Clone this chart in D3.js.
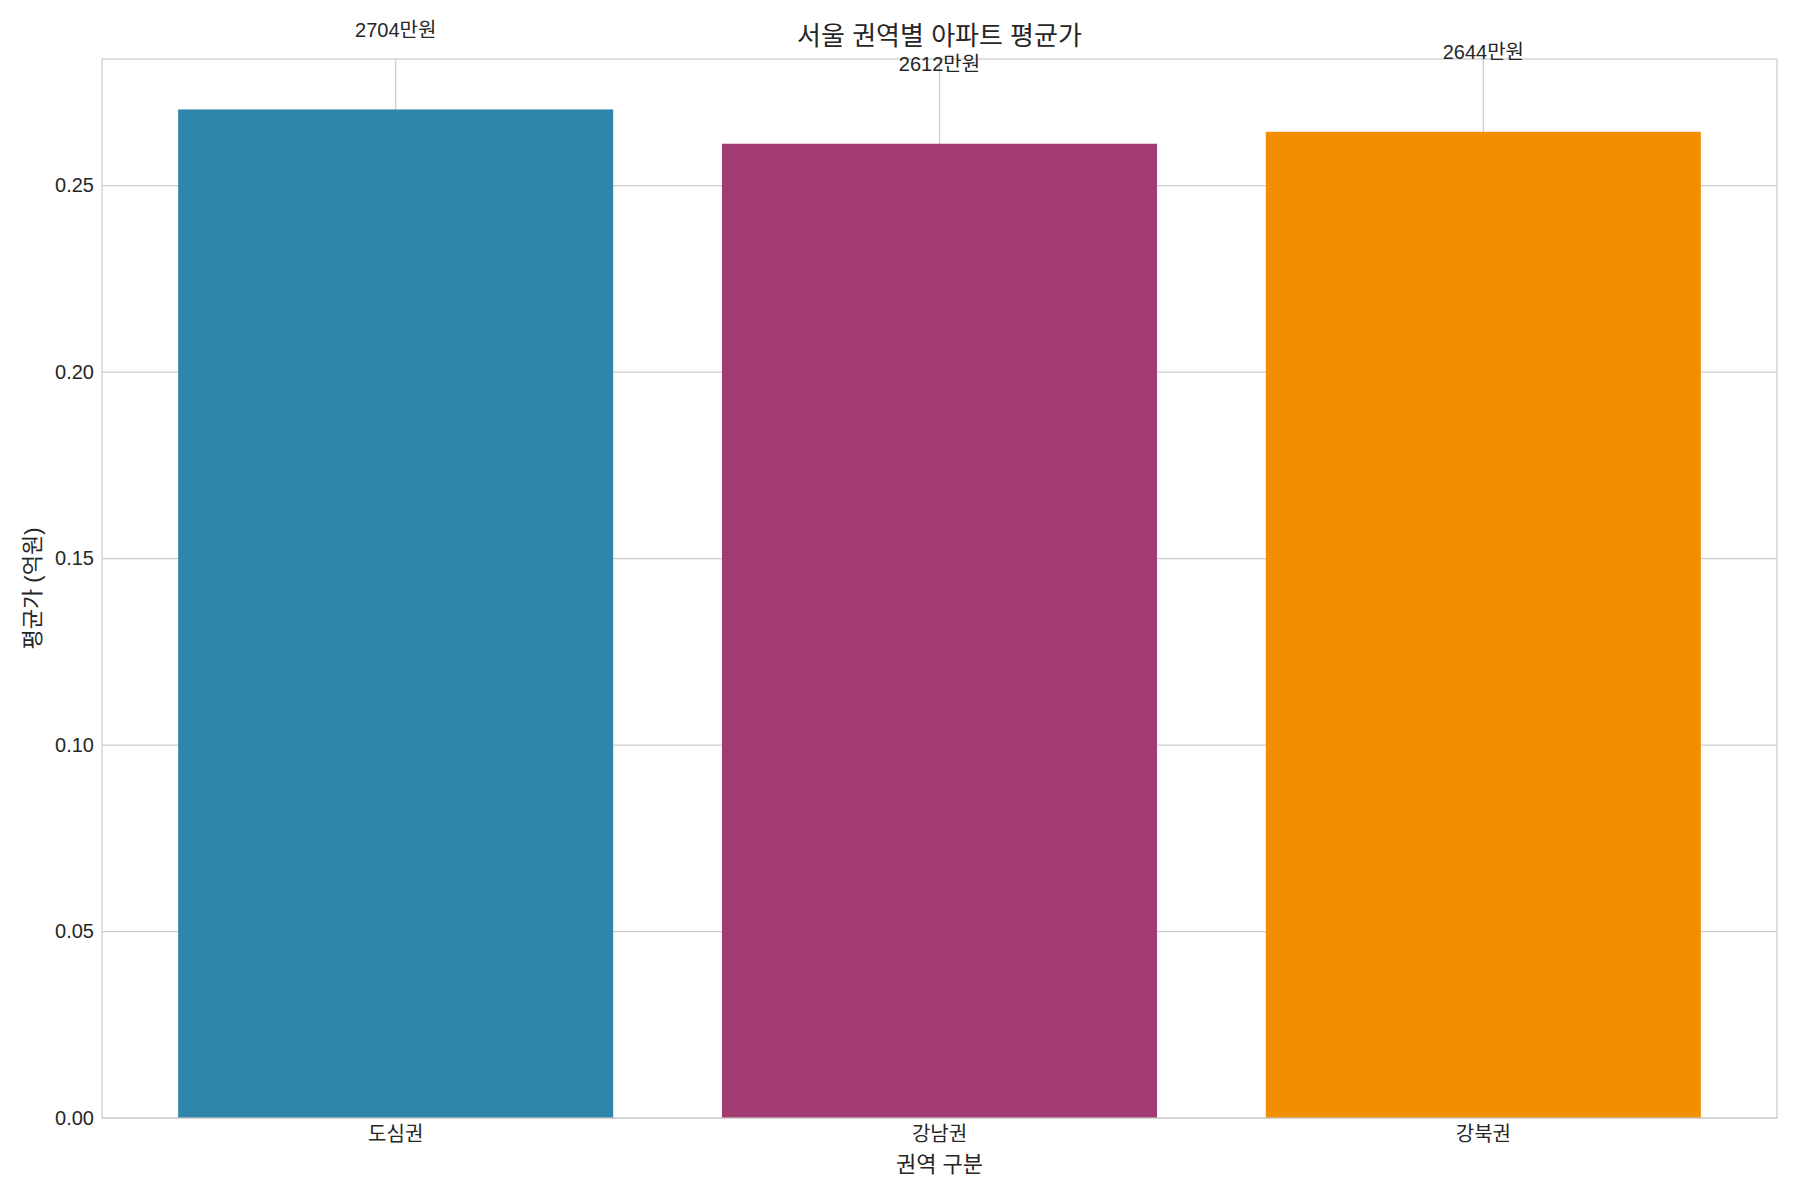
<!DOCTYPE html>
<html>
  <head>
    <meta charset="utf-8">
    <script src="https://d3js.org/d3.v7.min.js"></script>
    <style>
      body {
        margin: 0px;
        background: #ffffff;
      }
      text {
        font-family: "Liberation Sans", Arial, "Noto Sans CJK KR", sans-serif;
        fill: #262626;
      }
      .grid line {
        stroke: #cccccc;
        stroke-width: 1.25px;
      }
    </style>
  </head>
  <body>
    <svg width="1800" height="1200"></svg>
    <script>
      // chart values
      var categories = ["도심권", "강남권", "강북권"];
      var values = [0.2704, 0.2612, 0.2644];
      var valueLabels = ["2704만원", "2612만원", "2644만원"];
      var barColors = ["#2E86AB", "#A23B72", "#F18F01"];
      var yTicks = [0.00, 0.05, 0.10, 0.15, 0.20, 0.25];

      var titleText = "서울 권역별 아파트 평균가";
      var xLabelText = "권역 구분";
      var yLabelText = "평균가 (억원)";

      // plot area (window.top is reserved, so use other names)
      var plotLeft = 102, plotRight = 1777, plotTop = 59, plotBottom = 1118;
      var width = plotRight - plotLeft;
      var height = plotBottom - plotTop;

      var svg = d3.select("svg");

      var x = d3.scaleBand()
        .domain(categories)
        .range([0, width])
        .paddingInner(0.2)
        .paddingOuter(0.14);

      var y = d3.scaleLinear()
        .domain([0, d3.max(values) * 1.05])
        .range([height, 0]);

      var g = svg.append("g")
        .attr("transform", "translate(" + plotLeft + "," + plotTop + ")");

      // grid
      var grid = g.append("g").attr("class", "grid");
      grid.selectAll(".hgrid")
        .data(yTicks)
        .enter()
        .append("line")
        .attr("x1", 0)
        .attr("x2", width)
        .attr("y1", function(d) { return y(d); })
        .attr("y2", function(d) { return y(d); });
      grid.selectAll(".vgrid")
        .data(categories)
        .enter()
        .append("line")
        .attr("x1", function(d) { return x(d) + x.bandwidth() / 2; })
        .attr("x2", function(d) { return x(d) + x.bandwidth() / 2; })
        .attr("y1", 0)
        .attr("y2", height);

      // bars
      g.selectAll(".bar")
        .data(values)
        .enter()
        .append("rect")
        .attr("x", function(d, i) { return x(categories[i]); })
        .attr("y", function(d) { return y(d); })
        .attr("width", x.bandwidth())
        .attr("height", function(d) { return height - y(d); })
        .style("fill", function(d, i) { return barColors[i]; });

      // frame
      g.append("rect")
        .attr("width", width)
        .attr("height", height)
        .style("fill", "none")
        .style("stroke", "#cccccc")
        .style("stroke-width", 1.25);

      // value labels above bars
      g.selectAll(".vlabel")
        .data(values)
        .enter()
        .append("text")
        .attr("x", function(d, i) { return x(categories[i]) + x.bandwidth() / 2; })
        .attr("y", function(d) { return y(d + 0.02); })
        .attr("dy", "0.1em")
        .attr("text-anchor", "middle")
        .style("font-size", "20px")
        .text(function(d, i) { return valueLabels[i]; });

      // axes
      var yAxis = d3.axisLeft(y)
        .tickValues(yTicks)
        .tickSize(0)
        .tickPadding(8)
        .tickFormat(d3.format(".2f"));
      var ya = g.append("g").call(yAxis);
      ya.select(".domain").remove();
      ya.selectAll("text").style("font-size", "20px");

      var xAxis = d3.axisBottom(x)
        .tickSize(0)
        .tickPadding(9);
      var xa = g.append("g")
        .attr("transform", "translate(0," + height + ")")
        .call(xAxis);
      xa.select(".domain").remove();
      xa.selectAll("text").style("font-size", "20px");
      g.selectAll(".tick text").attr("fill", null);
      g.selectAll("g").attr("font-family", null).attr("font-size", null);

      // titles
      svg.append("text")
        .attr("x", plotLeft + width / 2)
        .attr("y", 45)
        .attr("text-anchor", "middle")
        .style("font-size", "26px")
        .text(titleText);

      svg.append("text")
        .attr("x", plotLeft + width / 2)
        .attr("y", 1172)
        .attr("text-anchor", "middle")
        .style("font-size", "22px")
        .text(xLabelText);

      svg.append("text")
        .attr("transform", "translate(40," + (plotTop + height / 2) + ") rotate(-90)")
        .attr("text-anchor", "middle")
        .style("font-size", "22px")
        .text(yLabelText);
    </script>
  </body>
</html>
